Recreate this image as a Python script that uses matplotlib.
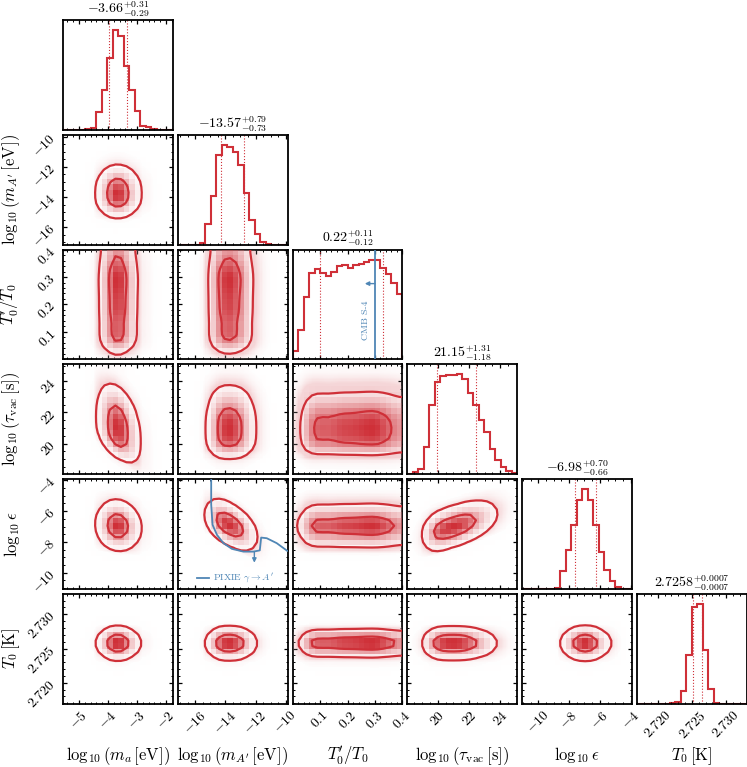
import numpy as np
import matplotlib
matplotlib.use("Agg")
import matplotlib.pyplot as plt
from matplotlib.colors import LinearSegmentedColormap, to_rgba
from matplotlib.ticker import AutoMinorLocator

plt.rcParams['mathtext.fontset'] = 'cm'
plt.rcParams['font.family'] = ['serif']
plt.rcParams['font.serif'] = ['cmr10', 'DejaVu Serif']
plt.rcParams['axes.unicode_minus'] = False

# ---------------- data ----------------
param_labels = [r"$\log_{10}\left(m_a\,[\mathrm{eV}]\right)$",
                r"$\log_{10}\left(m_{A'}\,[\mathrm{eV}]\right)$",
                r"$T_0'/T_0$",
                r"$\log_{10}\left(\tau_{\rm vac}\,[\mathrm{s}]\right)$",
                r"$\log_{10}\epsilon$",
                r"$T_0\,[\mathrm{K}]$"]
ranges = [(-5.54, -1.76), (-17.14, -9.87), (0.0, 0.4), (18.05, 25.08),
          (-11.05, -3.93), (2.71694, 2.73297)]
medians = [-3.66, -13.57, 0.22, 21.15, -6.98, 2.7258]
err_plus = [0.31, 0.79, 0.11, 1.31, 0.70, 0.0007]
err_minus = [0.29, 0.73, 0.12, 1.18, 0.66, 0.0007]
title_decimals = [2, 2, 2, 2, 2, 4]

hist_ma = [0, 0, 0, 0, 1, 4, 54, 119, 215, 299, 282, 192, 119, 57, 12, 7, 2, 0, 0, 0]
hist_mAp = [0, 0, 0, 0, 6, 61, 145, 268, 300, 293, 278, 238, 155, 73, 33, 9, 3, 0, 0, 0]
hist_Tp = [25, 88, 187, 257, 270, 257, 248, 260, 277, 280, 273, 280, 285, 290, 297, 295, 272, 255, 227, 195]
hist_tau = [0, 5, 15, 82, 205, 273, 292, 295, 295, 297, 282, 243, 207, 160, 125, 75, 42, 20, 8, 3]
hist_eps = [0, 0, 0, 0, 0, 0, 3, 53, 117, 190, 265, 297, 265, 190, 110, 57, 25, 5, 0, 0]
hist_T0 = [0, 0, 0, 0, 0, 0, 1, 5, 38, 145, 288, 296, 158, 43, 3, 0, 0, 0, 0, 0]
hists = [hist_ma, hist_mAp, hist_Tp, hist_tau, hist_eps, hist_T0]

corr_pairs = [(0, 3), (1, 4), (3, 4), (0, 4)]
corr_values = [-0.35, -0.6, 0.6, -0.1]

ticks = [[-5, -4, -3, -2], [-16, -14, -12, -10], [0.1, 0.2, 0.3, 0.4],
         [20, 22, 24], [-10, -8, -6, -4], [2.720, 2.725, 2.730]]
tick_labels = [[r"$-5$", r"$-4$", r"$-3$", r"$-2$"],
               [r"$-16$", r"$-14$", r"$-12$", r"$-10$"],
               [r"$0.1$", r"$0.2$", r"$0.3$", r"$0.4$"],
               [r"$20$", r"$22$", r"$24$"],
               [r"$-10$", r"$-8$", r"$-6$", r"$-4$"],
               [r"$2.720$", r"$2.725$", r"$2.730$"]]

cmbs4_limit = 0.30
pixie_x = [-14.94, -14.94, -14.85, -14.56, -14.13, -13.57, -12.80, -12.14, -11.72, -11.63, -11.26, -10.60, -9.90]
pixie_y = [-3.5, -5.58, -6.89, -7.54, -8.08, -8.45, -8.63, -8.63, -8.55, -7.72, -7.76, -8.08, -8.58]
pixie_arrow_x = -12.08
pixie_arrow_y = (-8.63, -9.35)

RED = '#cf3038'
BLUE = '#4f86b5'
NB = 20
npar = 6

sig = [(a + b) / 2 for a, b in zip(err_plus, err_minus)]


def edges_of(i):
    return np.linspace(ranges[i][0], ranges[i][1], NB + 1)


def marginal(i, v):
    e = edges_of(i)
    c = 0.5 * (e[1:] + e[:-1])
    h = np.asarray(hists[i], float)
    return np.interp(v, c, h, left=h[0], right=h[-1])


def get_rho(i, j):
    for (a, b), r in zip(corr_pairs, corr_values):
        if (a, b) == (i, j):
            return r
    return 0.0


def density2d(i, j, X, Y):
    rho = get_rho(i, j)
    fx = marginal(i, X)
    u = (X - medians[i]) / sig[i]
    v = (Y - medians[j]) / sig[j]
    w = (v - rho * u) / np.sqrt(1 - rho ** 2)
    fy = marginal(j, medians[j] + sig[j] * w)
    return fx * fy


def smooth(H, s=1.0):
    r = 4
    xk = np.arange(-r, r + 1)
    k = np.exp(-0.5 * (xk / s) ** 2)
    k /= k.sum()
    P = np.pad(H, r, mode='symmetric')
    P = np.apply_along_axis(lambda m: np.convolve(m, k, mode='valid'), 0, P)
    P = np.apply_along_axis(lambda m: np.convolve(m, k, mode='valid'), 1, P)
    return P


# ---------------- layout ----------------
W, Hpx = 747, 767
fig = plt.figure(figsize=(W / 100, Hpx / 100), dpi=100)
x0, dx, pw = 63.3, 114.7, 109.7
y0, dy = 20.0, 114.8


def make_ax(r, c):
    left = (x0 + dx * c) / W
    bottom = 1 - (y0 + dy * r + pw) / Hpx
    return fig.add_axes([left, bottom, pw / W, pw / Hpx])


def style(ax):
    for s in ax.spines.values():
        s.set_linewidth(1.3)
    ax.tick_params(which='both', direction='in', top=True, right=True)
    ax.tick_params(which='major', length=3.2, width=0.9, labelsize=10)
    ax.tick_params(which='minor', length=1.7, width=0.7)


levels = 1 - np.exp(-0.5 * np.array([1.0, 2.0]) ** 2)
dens_cmap = LinearSegmentedColormap.from_list('d', [(1, 1, 1, 0), to_rgba(RED)])
white_cmap = LinearSegmentedColormap.from_list('w', [(1, 1, 1), (1, 1, 1)], N=2)

for r in range(npar):
    for c in range(r + 1):
        ax = make_ax(r, c)
        style(ax)
        ex = edges_of(c)
        if r == c:
            h = np.asarray(hists[c], float)
            ax.stairs(h, ex, color=RED, lw=1.5)
            ax.set_ylim(0, 1.1 * h.max())
            ax.set_yticks([])
            ax.tick_params(which='both', left=False, right=False)
            d = title_decimals[c]
            ax.axvline(medians[c] - err_minus[c], ls=':', color=RED, lw=0.8)
            ax.axvline(medians[c] + err_plus[c], ls=':', color=RED, lw=0.8)
            ttl = (r"$%s^{+%s}_{-%s}$" % (f"{medians[c]:.{d}f}", f"{err_plus[c]:.{d}f}",
                                          f"{err_minus[c]:.{d}f}"))
            ax.text(0.5, 1.062, ttl, fontsize=10, ha='center', va='baseline',
                    transform=ax.transAxes)
        else:
            ey = edges_of(r)
            sub = 5
            fx = np.linspace(ex[0], ex[-1], NB * sub + 1)
            fy = np.linspace(ey[0], ey[-1], NB * sub + 1)
            fxc = 0.5 * (fx[1:] + fx[:-1])
            fyc = 0.5 * (fy[1:] + fy[:-1])
            FX, FY = np.meshgrid(fxc, fyc)
            Df = density2d(c, r, FX, FY)
            Hb = Df.reshape(NB, sub, NB, sub).mean(axis=(1, 3))
            Hs = smooth(Hb, 1.0)
            Hflat = np.sort(Hs.ravel())[::-1]
            sm = np.cumsum(Hflat)
            sm /= sm[-1]
            V = np.sort([Hflat[sm <= v0][-1] for v0 in levels])
            xc = 0.5 * (ex[1:] + ex[:-1])
            yc = 0.5 * (ey[1:] + ey[:-1])
            H2 = Hs.min() + np.zeros((NB + 4, NB + 4))
            H2[2:-2, 2:-2] = Hs
            H2[2:-2, 1] = Hs[:, 0]
            H2[2:-2, -2] = Hs[:, -1]
            H2[1, 2:-2] = Hs[0]
            H2[-2, 2:-2] = Hs[-1]
            H2[1, 1] = Hs[0, 0]
            H2[1, -2] = Hs[0, -1]
            H2[-2, 1] = Hs[-1, 0]
            H2[-2, -2] = Hs[-1, -1]
            X2 = np.concatenate([xc[0] + np.array([-2, -1]) * np.diff(xc[:2]), xc,
                                 xc[-1] + np.array([1, 2]) * np.diff(xc[-2:])])
            Y2 = np.concatenate([yc[0] + np.array([-2, -1]) * np.diff(yc[:2]), yc,
                                 yc[-1] + np.array([1, 2]) * np.diff(yc[-2:])])
            # faint halo imitating the scattered samples
            ratio = Df / Df.max()
            halo = np.zeros(Df.shape + (4,))
            halo[..., :3] = to_rgba(RED)[:3]
            halo[..., 3] = np.clip(ratio * 1.6, 0, 0.2) * (ratio > 0.006)
            ax.imshow(halo, extent=(fx[0], fx[-1], fy[0], fy[-1]), origin='lower',
                      aspect='auto', interpolation='nearest', zorder=1)
            ax.contourf(X2, Y2, H2, [V.min(), H2.max()], cmap=white_cmap, zorder=2,
                        antialiased=False)
            ax.pcolormesh(ex, ey, Hs, cmap=dens_cmap, vmin=Hs.min(), vmax=Hs.max(),
                          zorder=3, shading='flat')
            ax.contour(X2, Y2, H2, V, colors=RED, linewidths=1.6, zorder=4)
            ax.set_ylim(ranges[r])
            ax.set_yticks(ticks[r])
            ax.yaxis.set_minor_locator(AutoMinorLocator())
            if c == 0:
                ax.set_yticklabels(tick_labels[r], rotation=45)
                ax.set_ylabel(param_labels[r], fontsize=12)
                ax.yaxis.set_label_coords(-0.375, 0.5)
            else:
                ax.set_yticklabels([])
        ax.set_xlim(ranges[c])
        ax.set_xticks(ticks[c])
        ax.xaxis.set_minor_locator(AutoMinorLocator())
        if r == npar - 1:
            ax.set_xticklabels(tick_labels[c], rotation=45)
            ax.set_xlabel(param_labels[c], fontsize=12)
            ax.xaxis.set_label_coords(0.5, -0.375)
        else:
            ax.set_xticklabels([])

        if r == 2 and c == 2:
            ax.axvline(cmbs4_limit, color=BLUE, lw=1.3, zorder=5)
            ax.annotate('', xy=(cmbs4_limit - 0.037, 0.69), xytext=(cmbs4_limit, 0.69),
                        xycoords=('data', 'axes fraction'), textcoords=('data', 'axes fraction'),
                        arrowprops=dict(arrowstyle='-|>', color=BLUE, lw=1.0,
                                        mutation_scale=6, shrinkA=0, shrinkB=0))
            ax.text(cmbs4_limit - 0.032, 0.36, 'CMB S-4', rotation=90, color=BLUE,
                    fontsize=7, ha='center', va='center',
                    transform=ax.get_xaxis_transform())
        if r == 4 and c == 1:
            ax.plot(pixie_x, pixie_y, color=BLUE, lw=1.3, zorder=5)
            ax.annotate('', xy=(pixie_arrow_x, pixie_arrow_y[1]),
                        xytext=(pixie_arrow_x, pixie_arrow_y[0]),
                        arrowprops=dict(arrowstyle='-|>', color=BLUE, lw=1.0,
                                        mutation_scale=6, shrinkA=0, shrinkB=0))
            ax.plot([0.17, 0.28], [0.10, 0.10], transform=ax.transAxes, color=BLUE, lw=1.3)
            ax.text(0.32, 0.10, r"PIXIE $\gamma\rightarrow A'$", transform=ax.transAxes,
                    color=BLUE, fontsize=7, va='center', ha='left')

fig.savefig('out.png', dpi=100)
